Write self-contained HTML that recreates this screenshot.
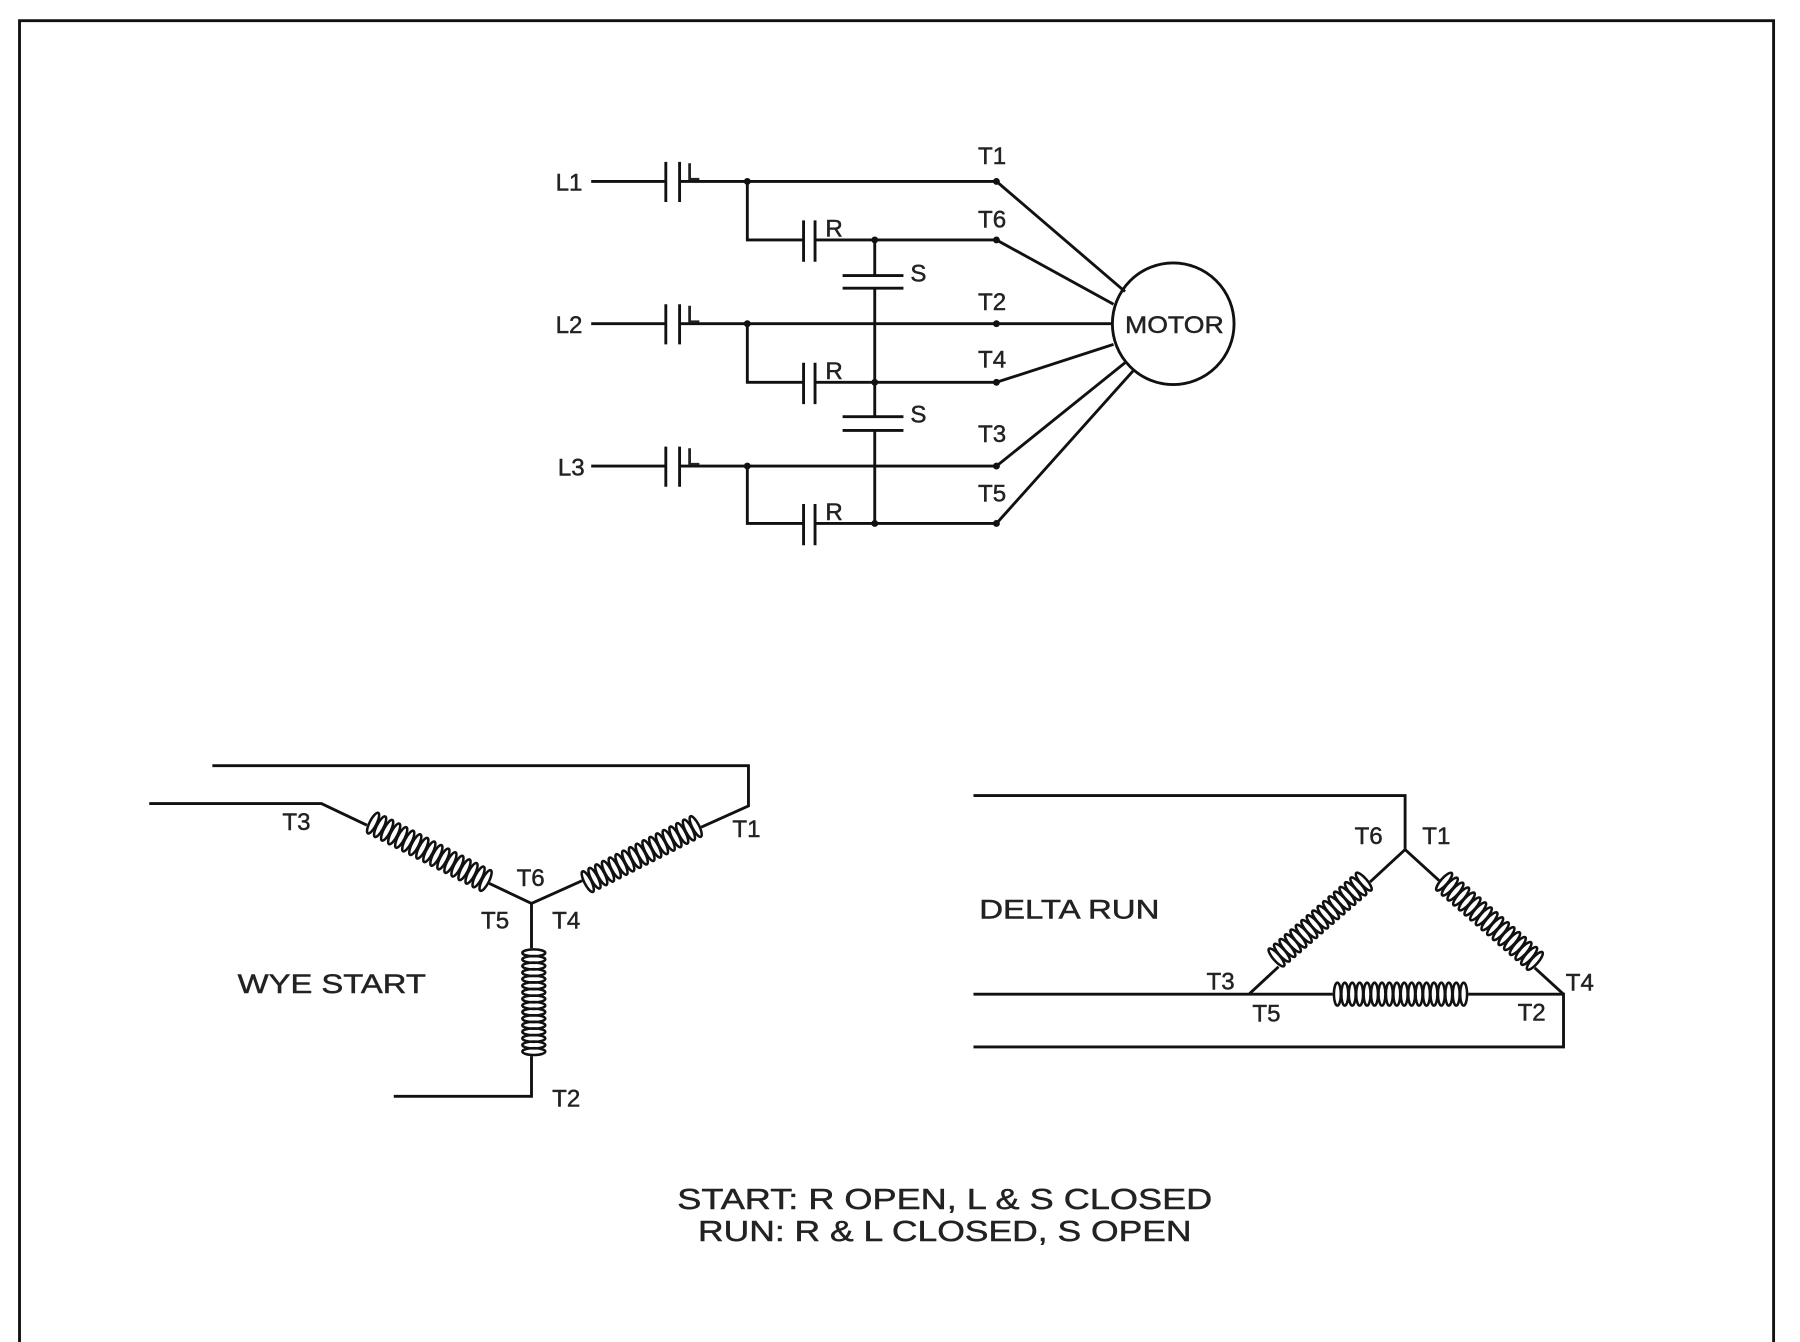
<!DOCTYPE html>
<html><head><meta charset="utf-8"><style>
html,body{margin:0;padding:0;background:#fff;}
svg{display:block}
text{font-family:"Liberation Sans",sans-serif;fill:#222;stroke:#222;stroke-width:0.4;}
</style></head><body>
<svg id="s" width="1800" height="1342" viewBox="0 0 1568 1169" preserveAspectRatio="none" xmlns="http://www.w3.org/2000/svg">
<g stroke="#111" stroke-width="2.5" fill="none">
<path d="M17 1169 V18 H1545 V1169" stroke-width="2.5"/>
<path d="M515 158 H580 M592 158 H868 M651 158 V209 H700 M710 209 H868"/>
<path d="M515 282 H580 M592 282 H868 M651 282 V333 H700 M710 333 H868"/>
<path d="M515 406 H580 M592 406 H868 M651 406 V456 H700 M710 456 H868"/>
<path d="M580 141 V176 M592 141 V176 M580 265 V300 M592 265 V300 M580 389 V424 M592 389 V424"/>
<path d="M700 192 V228 M710 192 V228 M700 316 V352 M710 316 V352 M700 439 V475 M710 439 V475"/>
<path d="M762 209 V240 M762 251 V363 M762 375 V456"/>
<path d="M734 240 H787 M734 251 H787 M734 363 H787 M734 375 H787"/>
<circle cx="1022" cy="282" r="53"/>
<path d="M868 158 L980 254 M868 209 L970 265 M868 282 L969 282 M868 333 L970 300 M868 406 L980 316 M868 456 L988 322"/>
<path d="M185 667 H652 V702 L463 787 M130 700 H280 L463 787 M463 787 V955 H343"/>
<path d="M848 693 H1224 V740 L1088 866 M1224 740 L1362 866 M848 866 H1362 V912 H848"/>
</g>
<g fill="#111">
<circle cx="651" cy="158" r="3"/><circle cx="651" cy="282" r="3"/><circle cx="651" cy="406" r="3"/>
<circle cx="762" cy="209" r="3"/><circle cx="762" cy="333" r="3"/><circle cx="762" cy="456" r="3"/>
<circle cx="868" cy="158" r="3"/><circle cx="868" cy="209" r="3"/><circle cx="868" cy="282" r="3"/>
<circle cx="868" cy="333" r="3"/><circle cx="868" cy="406" r="3"/><circle cx="868" cy="456" r="3"/>
</g>
<g id="coils"></g>
<g font-size="21">
<text x="484" y="166">L1</text><text x="484" y="290">L2</text><text x="486" y="414">L3</text>
<text x="598" y="157">L</text><text x="598" y="281">L</text><text x="598" y="405">L</text>
<text x="719" y="206">R</text><text x="719" y="330">R</text><text x="719" y="453">R</text>
<text x="793" y="245">S</text><text x="793" y="368">S</text>
<text x="852" y="143">T1</text><text x="852" y="198">T6</text><text x="852" y="270">T2</text>
<text x="852" y="320">T4</text><text x="852" y="385">T3</text><text x="852" y="437">T5</text>
<text x="980" y="290" font-size="21" textLength="86" lengthAdjust="spacingAndGlyphs">MOTOR</text>
<text x="246" y="723">T3</text><text x="638" y="729">T1</text><text x="450" y="772">T6</text>
<text x="419" y="809">T5</text><text x="481" y="809">T4</text>
<text x="207" y="865" font-size="23" textLength="164" lengthAdjust="spacingAndGlyphs">WYE START</text>
<text x="481" y="964">T2</text>
<text x="1180" y="735">T6</text><text x="1239" y="735">T1</text>
<text x="853" y="800" font-size="23" textLength="157" lengthAdjust="spacingAndGlyphs">DELTA RUN</text>
<text x="1051" y="862">T3</text><text x="1091" y="890">T5</text><text x="1322" y="889">T2</text><text x="1364" y="863">T4</text>
<text x="590" y="1053" font-size="25" textLength="466" lengthAdjust="spacingAndGlyphs">START: R OPEN, L &amp; S CLOSED</text>
<text x="608" y="1081" font-size="25" textLength="430" lengthAdjust="spacingAndGlyphs">RUN: R &amp; L CLOSED, S OPEN</text>
</g>
</svg>
<script>
function coil(x1,y1,x2,y2,n){
 var g=document.getElementById('coils'),ns='http://www.w3.org/2000/svg';
 var dx=x2-x1,dy=y2-y1,L=Math.hypot(dx,dy),a=Math.atan2(dy,dx)*180/Math.PI;
 var gg=document.createElementNS(ns,'g');
 gg.setAttribute('transform','translate('+x1+','+y1+') rotate('+a+')');
 var w=document.createElementNS(ns,'rect');
 w.setAttribute('x',-4);w.setAttribute('y',-10);w.setAttribute('width',L+8);w.setAttribute('height',20);
 w.setAttribute('fill','#fff');w.setAttribute('stroke','none');gg.appendChild(w);
 for(var i=0;i<n;i++){
  var e=document.createElementNS(ns,'ellipse');
  e.setAttribute('cx',i*L/(n-1));e.setAttribute('cy',0);e.setAttribute('rx',3);e.setAttribute('ry',10);
  e.setAttribute('fill','none');e.setAttribute('stroke','#111');e.setAttribute('stroke-width','2.2');
  gg.appendChild(e);
 }
 g.appendChild(gg);
}
coil(325,717,423,767,17);
coil(512,768,606,720,17);
coil(465,830,465,916,16);
coil(1112,834,1188,768,17);
coil(1258,768,1337,837,17);
coil(1165,866,1275,866,18);
</script>
</body></html>
